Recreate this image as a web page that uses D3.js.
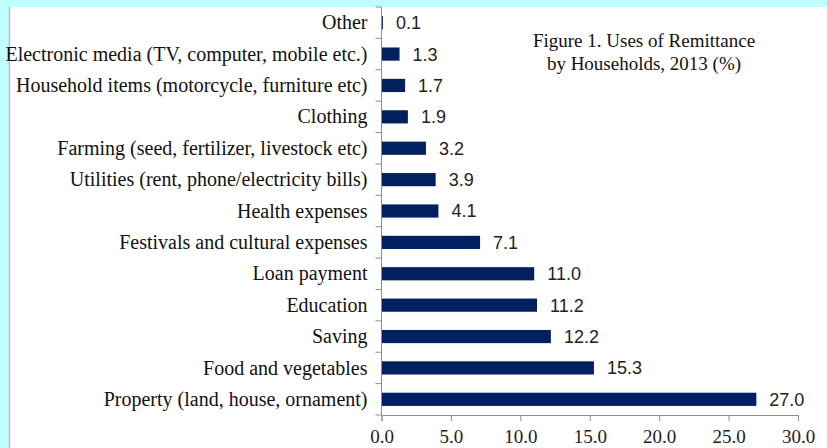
<!DOCTYPE html>
<html>
<head>
<meta charset="utf-8">
<script src="https://cdn.jsdelivr.net/npm/d3@7"></script>
<style>
  html, body { margin: 0; padding: 0; background: #c0ffff; }
  svg { display: block; }
</style>
</head>
<body>
<div id="chart"></div>
<script>
// categories from top to bottom, as in the picture
const categories = [
    "Other",
    "Electronic media (TV, computer, mobile etc.)",
    "Household items (motorcycle, furniture etc)",
    "Clothing",
    "Farming (seed, fertilizer, livestock etc)",
    "Utilities (rent, phone/electricity bills)",
    "Health expenses",
    "Festivals and cultural expenses",
    "Loan payment",
    "Education",
    "Saving",
    "Food and vegetables",
    "Property (land, house, ornament)"
];
const values = [0.1, 1.3, 1.7, 1.9, 3.2, 3.9, 4.1, 7.1, 11.0, 11.2, 12.2, 15.3, 27.0];
const xTicks = [0, 5, 10, 15, 20, 25, 30];
const titleLines = ["Figure 1. Uses of Remittance", "by Households, 2013 (%)"];

const width = 827, height = 448;
const panel = {x: 9, y: 7};
const plot = {left: 381.5, right: 798, top: 7, bottom: 415};
const serif = "Liberation Serif, Times New Roman, serif";

const svg = d3.select("#chart").append("svg")
    .attr("width", width)
    .attr("height", height);

// white panel on the cyan page
svg.append("rect")
    .attr("x", panel.x)
    .attr("y", panel.y)
    .attr("width", width - panel.x)
    .attr("height", height - panel.y)
    .attr("fill", "#fff");
svg.append("line")
    .attr("x1", panel.x + 0.5).attr("x2", panel.x + 0.5)
    .attr("y1", panel.y).attr("y2", height)
    .attr("stroke", "#bdbdbd").attr("stroke-width", 1.5);

const x = d3.scaleLinear()
    .domain([0, 30])
    .range([plot.left, plot.right]);

const y = d3.scaleBand()
    .domain(categories)
    .range([plot.top, plot.bottom])
    .paddingInner(0.58)
    .paddingOuter(0.29);

// bars
svg.selectAll("rect.bar")
    .data(values)
    .enter()
    .append("rect")
    .attr("class", "bar")
    .attr("x", x(0))
    .attr("y", (d, i) => y(categories[i]))
    .attr("width", d => x(d) - x(0))
    .attr("height", y.bandwidth())
    .attr("fill", "#002060");

// value labels
svg.selectAll("text.val")
    .data(values)
    .enter()
    .append("text")
    .attr("class", "val")
    .attr("x", d => x(d) + 13)
    .attr("y", (d, i) => y(categories[i]) + y.bandwidth() / 2)
    .attr("dy", "0.36em")
    .attr("font-family", "Liberation Sans, Arial, sans-serif")
    .attr("font-size", 18)
    .attr("fill", "#222")
    .text(d => d3.format(".1f")(d));

// x axis
const xAxis = svg.append("g")
    .attr("transform", "translate(0," + plot.bottom + ")")
    .call(d3.axisBottom(x).tickValues(xTicks).tickSize(6).tickPadding(9)
        .tickFormat(d3.format(".1f")));
xAxis.select(".domain").attr("stroke", "#8c8c8c");
xAxis.selectAll(".tick line").attr("stroke", "#8c8c8c");
xAxis.selectAll("text")
    .attr("font-family", serif)
    .attr("font-size", 19)
    .attr("fill", "#222");

// y axis: line with ticks between the categories
const yAxis = svg.append("g");
yAxis.append("line")
    .attr("x1", plot.left).attr("x2", plot.left)
    .attr("y1", plot.top).attr("y2", plot.bottom)
    .attr("stroke", "#8c8c8c");
yAxis.selectAll("line.ytick")
    .data(d3.range(categories.length + 1))
    .enter()
    .append("line")
    .attr("class", "ytick")
    .attr("x1", plot.left - 6).attr("x2", plot.left)
    .attr("y1", i => plot.top + i * y.step())
    .attr("y2", i => plot.top + i * y.step())
    .attr("stroke", "#8c8c8c");
yAxis.selectAll("text")
    .data(categories)
    .enter()
    .append("text")
    .attr("x", plot.left - 14)
    .attr("y", d => y(d) + y.bandwidth() / 2)
    .attr("dy", "0.33em")
    .attr("text-anchor", "end")
    .attr("font-family", serif)
    .attr("font-size", 20)
    .attr("fill", "#111")
    .text(d => d);

// title
svg.append("text")
    .attr("x", 644)
    .attr("y", 40)
    .attr("text-anchor", "middle")
    .attr("font-family", serif)
    .attr("font-size", 19)
    .attr("fill", "#111")
    .selectAll("tspan")
    .data(titleLines)
    .enter()
    .append("tspan")
    .attr("x", 644)
    .attr("dy", (d, i) => i === 0 ? "0.35em" : 23)
    .text(d => d);
</script>
</body>
</html>
